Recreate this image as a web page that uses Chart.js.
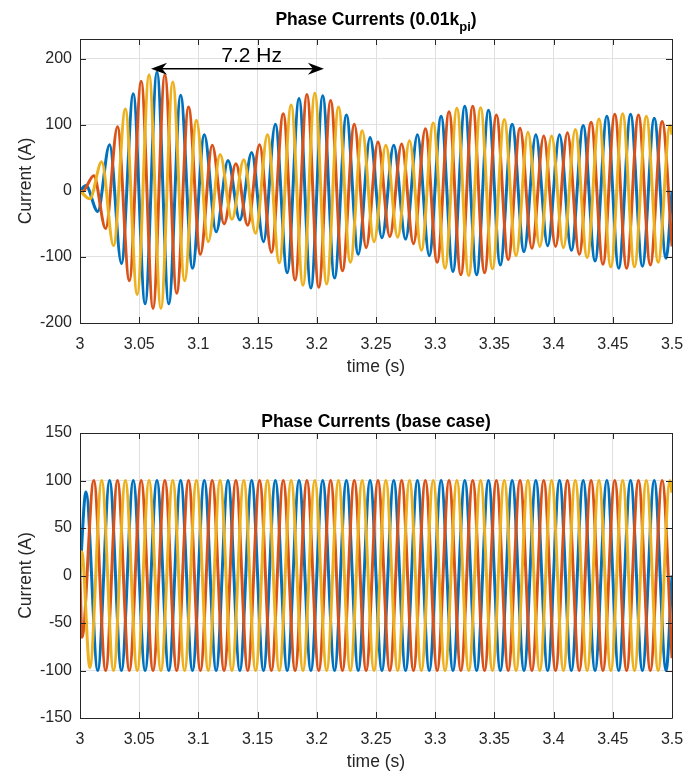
<!DOCTYPE html>
<html>
<head>
<meta charset="utf-8">
<script src="https://cdn.jsdelivr.net/npm/chart.js@4.4.1/dist/chart.umd.min.js"></script>
<style>
    html, body { margin: 0; padding: 0; background: #fff; }
    #wrap { position: relative; width: 684px; height: 773px; }
    canvas { position: absolute; left: 0; }
</style>
</head>
<body>
<div id="wrap">
    <canvas id="kpiChart" width="684" height="378" style="top:0px"></canvas>
    <canvas id="baseChart" width="684" height="395" style="top:378px"></canvas>
</div>
<script>
// time axis (s)
const tMin = 3.0, tMax = 3.5;
const xTickStep = 0.05;
// 50 Hz currents: one extreme (peak or trough) every half cycle
const halfCycle = 0.01;
// time of the first extreme of each phase: blue, orange, yellow
const firstExtreme = [3.005, 3.00167, 3.00833];

// Phase Currents (0.01 kpi): successive peak / trough values (A)
const kpiBlue = [8, -31, 70, -110, 147, -171, 180, -171, 145, -117, 85, -62, 46, -44, 58, -77, 101, -124, 140, -147,
    144, -132, 115, -96, 81, -71, 69, -73, 85, -98, 113, -122, 128, -127, 122, -112, 101, -92, 85, -83,
    85, -90, 99, -106, 113, -117, 116, -114, 110, -102];
const kpiOrange = [-2, 23, -57, 97, -136, 166, -178, 176, -155, 127, -96, 69, -50, 41, -52, 70, -93, 117, -135, 146,
    -146, 137, -121, 101, -86, 74, -69, 71, -80, 94, -108, 120, -127, 128, -124, 115, -104, 95, -87, 83,
    -84, 88, -96, 104, -111, 116, -117, 115, -112, 105];
const kpiYellow = [-12, 44, -83, 124, -157, 176, -178, 165, -136, 107, -77, 55, -43, 47, -64, 85, -109, 130, -143, 148,
    -141, 127, -108, 91, -77, 69, -70, 76, -90, 103, -117, 125, -128, 126, -118, 108, -98, 89, -84, 83,
    -86, 93, -101, 109, -115, 117, -115, 113, -108, 99];
const kpiStart = [0, 0, 0];
const kpiEnd = [0, -84, 85];

// Phase Currents (base case)
const baseBlue = [88, -100, 100, -100, 100, -100, 100, -100, 100, -100, 100, -100, 100, -100, 100, -100, 100, -100, 100, -100,
    100, -100, 100, -100, 100, -100, 100, -100, 100, -100, 100, -100, 100, -100, 100, -100, 100, -100, 100, -100,
    100, -100, 100, -100, 100, -100, 100, -100, 100, -100];
const baseOrange = [-65, 100, -100, 100, -100, 100, -100, 100, -100, 100, -100, 100, -100, 100, -100, 100, -100, 100, -100, 100,
    -100, 100, -100, 100, -100, 100, -100, 100, -100, 100, -100, 100, -100, 100, -100, 100, -100, 100, -100, 100,
    -100, 100, -100, 100, -100, 100, -100, 100, -100, 100];
const baseYellow = [-97, 100, -100, 100, -100, 100, -100, 100, -100, 100, -100, 100, -100, 100, -100, 100, -100, 100, -100, 100,
    -100, 100, -100, 100, -100, 100, -100, 100, -100, 100, -100, 100, -100, 100, -100, 100, -100, 100, -100, 100,
    -100, 100, -100, 100, -100, 100, -100, 100, -100, 100];
const baseStart = [0, 0, 0];
const baseYellowKick = [3.0015, 25];   // small bump of the yellow phase right after start
const baseEnd = [0, -87, 87];

const kpiYTicks = [-200, -100, 0, 100, 200];
const baseYTicks = [-150, -100, -50, 0, 50, 100, 150];

const phaseColors = ['#0072BD', '#D95319', '#EDB120'];
const FONT = '"Liberation Sans", Arial, Helvetica, sans-serif';
const INK = '#262626';

Chart.defaults.font.family = FONT;
Chart.defaults.color = INK;

function wave(phase, extremes, startValue, endValue, extra) {
    const pts = [{x: tMin, y: startValue}];
    if (extra) pts.push({x: extra[0], y: extra[1]});
    extremes.forEach((v, i) => pts.push({x: firstExtreme[phase] + i * halfCycle, y: v}));
    pts.push({x: tMax, y: endValue});
    return pts;
}

function datasets(series, starts, ends, extras) {
    return series.map((s, i) => ({
        data: wave(i, s, starts[i], ends[i], extras[i]),
        borderColor: phaseColors[i],
        borderWidth: 3,
        pointRadius: 0,
        fill: false,
        tension: 0.4,
        cubicInterpolationMode: 'monotone',
        order: 3 - i
    }));
}

// MATLAB-like box, inward ticks on all sides, title with subscript, arrow annotation
const matlabAxes = {
    id: 'matlabAxes',
    afterDraw(chart, args, opts) {
        const {ctx, chartArea: a, scales} = chart;
        const xs = scales.x, ys = scales.y;
        ctx.save();
        ctx.strokeStyle = INK;
        ctx.lineWidth = 1;
        ctx.beginPath();
        xs.ticks.forEach(t => {
            const px = Math.round(xs.getPixelForValue(t.value)) + 0.5;
            ctx.moveTo(px, a.bottom); ctx.lineTo(px, a.bottom - 6);
            ctx.moveTo(px, a.top); ctx.lineTo(px, a.top + 6);
        });
        ys.ticks.forEach(t => {
            const py = Math.round(ys.getPixelForValue(t.value)) + 0.5;
            ctx.moveTo(a.left, py); ctx.lineTo(a.left + 6, py);
            ctx.moveTo(a.right, py); ctx.lineTo(a.right - 6, py);
        });
        ctx.rect(Math.round(a.left) + 0.5, Math.round(a.top) + 0.5,
            Math.round(a.right - a.left), Math.round(a.bottom - a.top));
        ctx.stroke();

        // title
        const mainFont = 'bold 17.5px ' + FONT;
        const subFont = 'bold 13px ' + FONT;
        ctx.fillStyle = '#000';
        ctx.textBaseline = 'alphabetic';
        ctx.textAlign = 'left';
        const widths = opts.title.map(p => { ctx.font = p[1] ? subFont : mainFont; return ctx.measureText(p[0]).width; });
        let x = (a.left + a.right) / 2 - widths.reduce((s, w) => s + w, 0) / 2;
        opts.title.forEach((p, i) => {
            ctx.font = p[1] ? subFont : mainFont;
            ctx.fillText(p[0], x, opts.titleY + (p[1] ? 6 : 0));
            x += widths[i];
        });

        // double arrow with label
        if (opts.arrow) {
            const ar = opts.arrow;
            const x1 = xs.getPixelForValue(ar.from), x2 = xs.getPixelForValue(ar.to);
            const y = ys.getPixelForValue(ar.at);
            ctx.strokeStyle = '#000';
            ctx.lineWidth = 1.5;
            ctx.beginPath();
            ctx.moveTo(x1 + 8, y); ctx.lineTo(x2 - 8, y);
            ctx.stroke();
            [[x1, 1], [x2, -1]].forEach(([tip, d]) => {
                ctx.beginPath();
                ctx.moveTo(tip, y);
                ctx.lineTo(tip + d * 16, y - 6);
                ctx.lineTo(tip + d * 11, y);
                ctx.lineTo(tip + d * 16, y + 6);
                ctx.closePath();
                ctx.fillStyle = '#000';
                ctx.fill();
            });
            ctx.font = '21px ' + FONT;
            ctx.textAlign = 'center';
            ctx.fillStyle = '#000';
            ctx.fillText(ar.label, xs.getPixelForValue(ar.labelAt[0]), ys.getPixelForValue(ar.labelAt[1]));
        }
        ctx.restore();
    }
};

function makeChart(id, sets, yMin, yMax, yTicks, padTop, pluginOpts) {
    return new Chart(document.getElementById(id), {
        type: 'line',
        data: {datasets: sets},
        options: {
            responsive: false,
            devicePixelRatio: 1,
            animation: false,
            layout: {padding: {top: padTop, right: 12, left: 0, bottom: 0}},
            plugins: {
                legend: {display: false},
                tooltip: {enabled: false},
                matlabAxes: pluginOpts
            },
            scales: {
                x: {
                    type: 'linear',
                    min: tMin,
                    max: tMax,
                    afterFit: s => { s.height = 55; s.paddingLeft = 0; s.paddingRight = 0; },
                    ticks: {
                        stepSize: xTickStep,
                        autoSkip: false,
                        maxRotation: 0,
                        padding: 12,
                        font: {size: 16},
                        color: INK,
                        callback: v => String(+v.toFixed(2))
                    },
                    grid: {color: '#e0e0e0', drawTicks: false},
                    border: {display: false},
                    title: {display: true, text: 'time (s)', font: {size: 17.5}, color: INK, padding: {top: 0, bottom: 0}}
                },
                y: {
                    min: yMin,
                    max: yMax,
                    afterFit: s => { s.width = 80; s.paddingTop = 0; s.paddingBottom = 0; },
                    afterBuildTicks: s => { s.ticks = yTicks.map(v => ({value: v})); },
                    ticks: {padding: 8, font: {size: 16}, color: INK},
                    grid: {color: '#e0e0e0', drawTicks: false},
                    border: {display: false},
                    title: {display: true, text: 'Current (A)', font: {size: 17.5}, color: INK, padding: {top: 16, bottom: 0}}
                }
            }
        },
        plugins: [matlabAxes]
    });
}

makeChart('kpiChart',
    datasets([kpiBlue, kpiOrange, kpiYellow], kpiStart, kpiEnd, [null, null, null]),
    -200, 230, kpiYTicks, 39,
    {
        title: [['Phase Currents (0.01k', false], ['pi', true], [')', false]],
        titleY: 25,
        arrow: {from: 3.06, to: 3.206, at: 185, label: '7.2 Hz', labelAt: [3.145, 195.5]}
    });

makeChart('baseChart',
    datasets([baseBlue, baseOrange, baseYellow], baseStart, baseEnd, [null, null, baseYellowKick]),
    -150, 150, baseYTicks, 55,
    {
        title: [['Phase Currents (base case)', false]],
        titleY: 49
    });
</script>
</body>
</html>
